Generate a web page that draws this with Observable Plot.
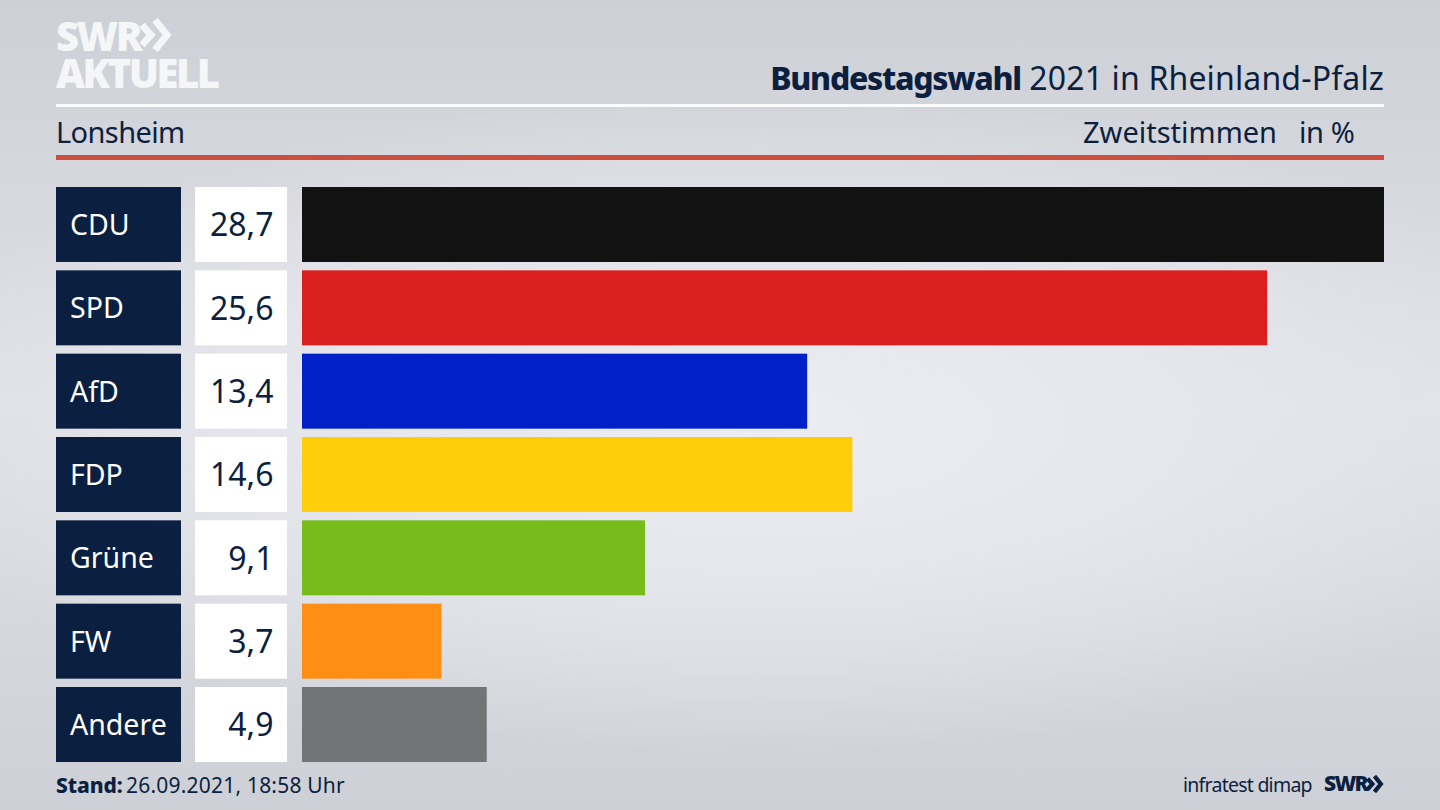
<!DOCTYPE html>
<html lang="de">
<head>
<meta charset="utf-8">
<script src="https://cdn.jsdelivr.net/npm/d3@7"></script>
<script src="https://cdn.jsdelivr.net/npm/@observablehq/plot@0.6"></script>
<style>
html,body{margin:0;padding:0;width:1440px;height:810px;overflow:hidden}
body{position:relative;font-family:"Noto Sans",sans-serif;color:#0c1f3f;
background:radial-gradient(ellipse 900px 330px at 760px 425px,#ecedf2 0%,#e6e7ec 45%,rgba(215,217,223,0) 100%),linear-gradient(180deg,#cdd0d6 0%,#d8dae0 30%,#dfe1e6 50%,#d8dae0 70%,#cdd0d6 100%)}
#chart{position:absolute;left:0;top:0}
.t{position:absolute;white-space:nowrap;line-height:1}
.rule{position:absolute;left:56px;width:1328px}
.chev{position:absolute;fill:none;stroke-width:7}
</style>
</head>
<body>
<div id="chart"></div>
<div class="t" id="logo" style="left:56px;top:17px;white-space:pre;font:800 40px/37px 'Open Sans',sans-serif;color:#f5f6f8;letter-spacing:-2.5px">SWR
AKTUELL</div>
<svg class="chev" style="left:140px;top:18px;stroke:#f5f6f8" width="32" height="34" viewBox="0 0 32 34"><path d="M2 7 L11 17 L2 27M15 2 L27 17 L15 32"/></svg>
<div class="t" id="title" style="right:56px;top:62px;font-size:32px;letter-spacing:.15px"><b style="font-weight:800;letter-spacing:-1.3px">Bundestagswahl</b> 2021 in Rheinland-Pfalz</div>
<div class="rule" style="top:104px;height:3px;background:#fbfbfc"></div>
<div class="t" id="place" style="left:56px;top:117px;font-size:29px;letter-spacing:-.6px">Lonsheim</div>
<div class="t" id="measure" style="left:1083px;top:117px;font-size:29px">Zweitstimmen</div>
<div class="t" id="unit" style="left:1299px;top:117px;font-size:29px;letter-spacing:-.4px">in %</div>
<div class="rule" style="top:155px;height:5px;background:#cf4f3f"></div>
<div class="t" id="stand" style="left:56px;top:775px;font-size:21px;letter-spacing:.2px"><b style="font-weight:800;letter-spacing:-.1px">Stand:</b><span style="letter-spacing:-2px"> </span>26.09.2021, 18:58 Uhr</div>
<div class="t" id="source" style="left:1183px;top:775px;font-size:19.5px;letter-spacing:-.75px">infratest dimap</div>
<div class="t" id="brand" style="left:1324px;top:773px;font:800 21px/1 'Open Sans',sans-serif;letter-spacing:-1.7px">SWR</div>
<svg class="chev" style="left:1366px;top:775px;stroke:#0c1f3f;stroke-width:8" width="18" height="18" viewBox="0 0 32 34"><path d="M2 7 L11 17 L2 27M15 2 L27 17 L15 32"/></svg>
<script>
const parties = ["CDU","SPD","AfD","FDP","Grüne","FW","Andere"];
const shares = [28.7,25.6,13.4,14.6,9.1,3.7,4.9];
const shareLabels = ["28,7","25,6","13,4","14,6","9,1","3,7","4,9"];
const barColors = ["#121212","#da1f1f","#0021c8","#ffcd0a","#78bc1b","#ff8f14","#737476"];
const rows = parties.map((party,i)=>({party,share:shares[i],label:shareLabels[i]}));

const W=1440,H=810,x0=302,x1=1384;
const v = p => (p-x0)/(x1-x0)*28.7;   // pixel column edge expressed in the x scale's units
const chart = Plot.plot({
  width:W,height:H,margin:0,
  style:{background:"transparent"},
  x:{domain:[v(0),v(W)],range:[0,W],axis:null},
  y:{domain:parties,range:[187,762],paddingInner:0.1,paddingOuter:0,round:false,axis:null},
  color:{domain:parties,range:barColors},
  marks:[
    Plot.barX(rows,{y:"party",x1:()=>v(56),x2:()=>v(181),fill:"#0b1f40"}),
    Plot.barX(rows,{y:"party",x1:()=>v(195),x2:()=>v(287),fill:"#ffffff"}),
    Plot.barX(rows,{y:"party",x1:0,x2:"share",fill:"party"}),
    Plot.text(rows,{y:"party",x:()=>v(70),dx:-0.5,dy:1,text:"party",textAnchor:"start",fill:"#ffffff",fontSize:28.5}),
    Plot.text(rows,{y:"party",x:()=>v(273),dy:1,text:"label",textAnchor:"end",fill:"#0c1f3f",fontSize:32})
  ]
});
chart.style.fontFamily='"Noto Sans",sans-serif';
document.getElementById("chart").append(chart);
</script>
</body>
</html>
